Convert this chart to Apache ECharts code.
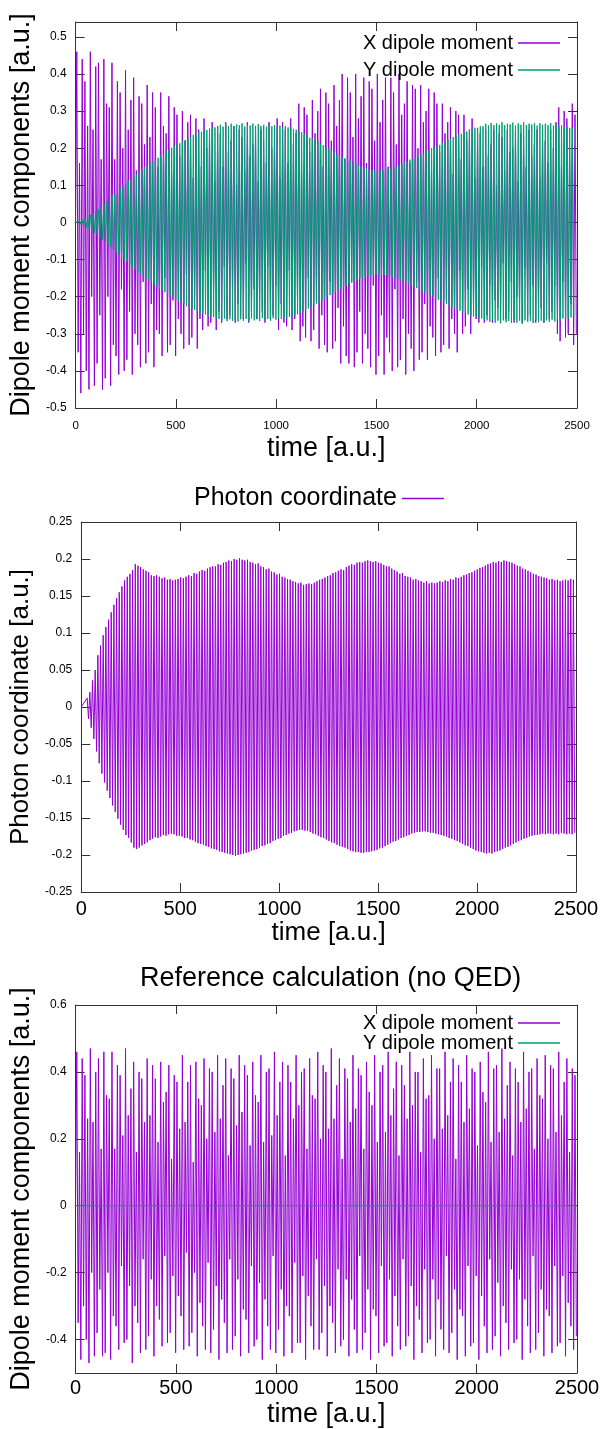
<!DOCTYPE html>
<html>
<head>
<meta charset="utf-8">
<script src="https://cdn.jsdelivr.net/npm/echarts@6.0.0/dist/echarts.min.js"></script>
<style>
  html, body { margin: 0; padding: 0; background: #fff; }
  #chart { width: 605px; height: 1429px; }
</style>
</head>
<body>
<div id="chart"></div>
<script>
// tick labels
const timeTicks = [0, 500, 1000, 1500, 2000, 2500];
const dipoleTicks = [-0.5, -0.4, -0.3, -0.2, -0.1, 0, 0.1, 0.2, 0.3, 0.4, 0.5];
const photonTicks = [-0.25, -0.2, -0.15, -0.1, -0.05, 0, 0.05, 0.1, 0.15, 0.2, 0.25];
const refTicks = [-0.4, -0.2, 0, 0.2, 0.4, 0.6];

// one value per oscillation: maxima and minima
const period = 13.5;
const dipoleStart = 6;
const yDipoleStart = 20;
const photonStart = 30;

// panel 1, X dipole moment
const xDipoleMax = [
  0.46, 0.16, 0.44, 0.38, 0.26, 0.46, 0.25, 0.42, 0.43, 0.17,
  0.44, 0.32, 0.31, 0.43, 0.17, 0.38, 0.35, 0.2, 0.41, 0.25,
  0.33, 0.39, 0.14, 0.34, 0.32, 0.21, 0.37, 0.23, 0.35, 0.31,
  0.15, 0.35, 0.26, 0.24, 0.34, 0.13, 0.31, 0.29, 0.18, 0.3,
  0.22, 0.27, 0.29, 0.12, 0.28, 0.25, 0.15, 0.28, 0.2, 0.24,
  0.27, 0.11, 0.26, 0.24, 0.15, 0.27, 0.19, 0.22, 0.26, 0.1,
  0.25, 0.23, 0.14, 0.27, 0.18, 0.21, 0.26, 0.11, 0.25, 0.22,
  0.16, 0.27, 0.2, 0.22, 0.28, 0.12, 0.27, 0.25, 0.16, 0.28,
  0.21, 0.24, 0.32, 0.14, 0.31, 0.29, 0.19, 0.33, 0.24, 0.3,
  0.36, 0.15, 0.35, 0.32, 0.22, 0.37, 0.26, 0.33, 0.4, 0.17,
  0.39, 0.35, 0.23, 0.4, 0.28, 0.34, 0.39, 0.16, 0.38, 0.36,
  0.22, 0.4, 0.27, 0.33, 0.39, 0.15, 0.39, 0.35, 0.21, 0.4,
  0.29, 0.32, 0.38, 0.16, 0.37, 0.36, 0.2, 0.37, 0.27, 0.3,
  0.36, 0.14, 0.35, 0.32, 0.19, 0.32, 0.24, 0.27, 0.31, 0.13,
  0.3, 0.29, 0.17, 0.29, 0.22, 0.25, 0.28, 0.12, 0.25, 0.24,
  0.15, 0.25, 0.18, 0.21, 0.25, 0.1, 0.24, 0.23, 0.14, 0.25,
  0.19, 0.2, 0.25, 0.11, 0.24, 0.23, 0.15, 0.25, 0.18, 0.21,
  0.25, 0.12, 0.24, 0.22, 0.16, 0.25, 0.2, 0.27, 0.31, 0.15,
  0.3, 0.28, 0.2, 0.32, 0.29
];
const xDipoleMin = [
  -0.35, -0.46, -0.3, -0.4, -0.45, -0.2, -0.44, -0.38, -0.25, -0.45,
  -0.42, -0.2, -0.44, -0.33, -0.36, -0.41, -0.18, -0.4, -0.37, -0.24,
  -0.41, -0.3, -0.33, -0.39, -0.16, -0.38, -0.35, -0.22, -0.39, -0.29,
  -0.3, -0.36, -0.15, -0.35, -0.33, -0.21, -0.36, -0.26, -0.3, -0.34,
  -0.14, -0.33, -0.31, -0.2, -0.34, -0.26, -0.29, -0.13, -0.28, -0.27,
  -0.18, -0.29, -0.24, -0.27, -0.12, -0.26, -0.25, -0.17, -0.27, -0.22,
  -0.25, -0.26, -0.11, -0.27, -0.24, -0.18, -0.26, -0.21, -0.24, -0.27,
  -0.12, -0.26, -0.25, -0.17, -0.29, -0.22, -0.27, -0.28, -0.13, -0.29,
  -0.26, -0.2, -0.32, -0.28, -0.31, -0.15, -0.32, -0.29, -0.21, -0.34,
  -0.25, -0.33, -0.35, -0.16, -0.34, -0.32, -0.23, -0.38, -0.28, -0.36,
  -0.38, -0.16, -0.39, -0.35, -0.24, -0.38, -0.3, -0.34, -0.39, -0.17,
  -0.41, -0.36, -0.25, -0.41, -0.31, -0.35, -0.4, -0.18, -0.39, -0.37,
  -0.26, -0.41, -0.3, -0.34, -0.4, -0.16, -0.37, -0.35, -0.22, -0.37,
  -0.28, -0.31, -0.36, -0.15, -0.35, -0.33, -0.21, -0.34, -0.26, -0.3,
  -0.35, -0.13, -0.3, -0.28, -0.18, -0.3, -0.22, -0.26, -0.27, -0.12,
  -0.27, -0.25, -0.17, -0.27, -0.21, -0.23, -0.26, -0.11, -0.26, -0.24,
  -0.16, -0.27, -0.2, -0.22, -0.27, -0.12, -0.26, -0.25, -0.17, -0.27,
  -0.22, -0.23, -0.27, -0.11, -0.26, -0.24, -0.17, -0.3, -0.32, -0.16,
  -0.31, -0.3, -0.22, -0.33, -0.3
];

// panel 1, Y dipole moment
const yDipoleMax = [
  0.004, 0.007, 0.011, 0.015, 0.021, 0.025, 0.031, 0.036, 0.044, 0.049,
  0.058, 0.063, 0.072, 0.077, 0.085, 0.09, 0.099, 0.104, 0.112, 0.117,
  0.126, 0.13, 0.138, 0.141, 0.149, 0.152, 0.16, 0.163, 0.171, 0.174,
  0.181, 0.184, 0.191, 0.195, 0.201, 0.205, 0.211, 0.213, 0.22, 0.222,
  0.229, 0.23, 0.236, 0.237, 0.243, 0.244, 0.248, 0.249, 0.253, 0.253,
  0.256, 0.259, 0.263, 0.258, 0.265, 0.26, 0.266, 0.259, 0.264, 0.262,
  0.267, 0.258, 0.264, 0.261, 0.266, 0.259, 0.265, 0.26, 0.263, 0.258,
  0.264, 0.259, 0.262, 0.257, 0.261, 0.256, 0.26, 0.256, 0.257, 0.252,
  0.25, 0.245, 0.243, 0.237, 0.235, 0.228, 0.226, 0.22, 0.218, 0.211,
  0.208, 0.201, 0.199, 0.192, 0.19, 0.183, 0.181, 0.175, 0.173, 0.167,
  0.165, 0.159, 0.157, 0.152, 0.151, 0.146, 0.146, 0.142, 0.142, 0.139,
  0.141, 0.139, 0.142, 0.141, 0.145, 0.145, 0.149, 0.149, 0.154, 0.156,
  0.162, 0.163, 0.169, 0.17, 0.176, 0.178, 0.184, 0.186, 0.192, 0.194,
  0.2, 0.201, 0.207, 0.209, 0.215, 0.217, 0.223, 0.225, 0.23, 0.232,
  0.238, 0.239, 0.244, 0.245, 0.25, 0.251, 0.255, 0.255, 0.259, 0.259,
  0.266, 0.261, 0.268, 0.262, 0.267, 0.263, 0.27, 0.262, 0.266, 0.264,
  0.269, 0.261, 0.267, 0.263, 0.27, 0.262, 0.266, 0.264, 0.268, 0.261,
  0.267, 0.263, 0.266, 0.262, 0.268, 0.261, 0.264, 0.26, 0.262, 0.258,
  0.257, 0.255, 0.254
];
const yDipoleMin = [
  -0.005, -0.009, -0.013, -0.018, -0.023, -0.028, -0.034, -0.04, -0.046, -0.053,
  -0.06, -0.067, -0.074, -0.081, -0.087, -0.094, -0.101, -0.107, -0.114, -0.121,
  -0.127, -0.134, -0.139, -0.145, -0.15, -0.156, -0.161, -0.167, -0.172, -0.178,
  -0.182, -0.188, -0.192, -0.198, -0.202, -0.208, -0.211, -0.217, -0.22, -0.226,
  -0.229, -0.233, -0.236, -0.24, -0.243, -0.246, -0.248, -0.251, -0.253, -0.255,
  -0.258, -0.26, -0.264, -0.259, -0.266, -0.261, -0.265, -0.26, -0.267, -0.261,
  -0.265, -0.26, -0.266, -0.259, -0.264, -0.261, -0.266, -0.258, -0.263, -0.26,
  -0.265, -0.258, -0.262, -0.257, -0.26, -0.256, -0.259, -0.254, -0.255, -0.25,
  -0.248, -0.244, -0.24, -0.236, -0.232, -0.227, -0.223, -0.219, -0.215, -0.21,
  -0.205, -0.2, -0.196, -0.191, -0.187, -0.182, -0.178, -0.174, -0.17, -0.166,
  -0.162, -0.158, -0.155, -0.151, -0.149, -0.146, -0.144, -0.142, -0.141, -0.14,
  -0.14, -0.141, -0.141, -0.143, -0.144, -0.147, -0.148, -0.151, -0.155, -0.159,
  -0.162, -0.166, -0.17, -0.173, -0.177, -0.181, -0.185, -0.189, -0.193, -0.197,
  -0.2, -0.204, -0.208, -0.212, -0.216, -0.22, -0.224, -0.227, -0.231, -0.235,
  -0.238, -0.242, -0.244, -0.248, -0.25, -0.253, -0.255, -0.257, -0.259, -0.261,
  -0.264, -0.268, -0.263, -0.27, -0.265, -0.272, -0.264, -0.269, -0.266, -0.271,
  -0.264, -0.27, -0.265, -0.273, -0.264, -0.268, -0.266, -0.271, -0.263, -0.269,
  -0.265, -0.27, -0.264, -0.268, -0.262, -0.267, -0.261, -0.264, -0.259, -0.261,
  -0.257, -0.256, -0.253
];

// panel 2, photon coordinate
const photonMax = [
  0.012, 0.02, 0.036, 0.05, 0.07, 0.083, 0.097, 0.108, 0.118, 0.128,
  0.138, 0.147, 0.155, 0.163, 0.171, 0.176, 0.18, 0.185, 0.193, 0.191,
  0.189, 0.186, 0.184, 0.182, 0.178, 0.177, 0.178, 0.176, 0.174, 0.175,
  0.172, 0.173, 0.171, 0.172, 0.173, 0.175, 0.174, 0.176, 0.178, 0.177,
  0.181, 0.18, 0.183, 0.185, 0.184, 0.187, 0.189, 0.19, 0.19, 0.193,
  0.192, 0.195, 0.196, 0.198, 0.197, 0.2, 0.199, 0.201, 0.199, 0.198,
  0.199, 0.196, 0.195, 0.193, 0.194, 0.19, 0.189, 0.186, 0.187, 0.183,
  0.182, 0.179, 0.18, 0.176, 0.175, 0.173, 0.172, 0.17, 0.169, 0.167,
  0.168, 0.165, 0.166, 0.167, 0.166, 0.168, 0.17, 0.172, 0.173, 0.175,
  0.177, 0.178, 0.181, 0.182, 0.184, 0.186, 0.185, 0.189, 0.191, 0.193,
  0.192, 0.195, 0.196, 0.195, 0.197, 0.198, 0.197, 0.196, 0.197, 0.195,
  0.194, 0.192, 0.19, 0.19, 0.187, 0.185, 0.183, 0.18, 0.181, 0.177,
  0.176, 0.175, 0.172, 0.173, 0.171, 0.17, 0.168, 0.17, 0.167, 0.168,
  0.167, 0.168, 0.17, 0.169, 0.171, 0.17, 0.173, 0.172, 0.175, 0.174,
  0.176, 0.178, 0.179, 0.181, 0.182, 0.184, 0.186, 0.188, 0.189, 0.191,
  0.193, 0.194, 0.196, 0.195, 0.197, 0.196, 0.198, 0.197, 0.196, 0.195,
  0.193, 0.191, 0.19, 0.187, 0.186, 0.184, 0.182, 0.18, 0.179, 0.177,
  0.176, 0.175, 0.174, 0.172, 0.173, 0.171, 0.172, 0.17, 0.171, 0.172,
  0.171, 0.173, 0.172
];
const photonMin = [
  -0.016, -0.028, -0.043, -0.06, -0.076, -0.09, -0.102, -0.113, -0.123, -0.133,
  -0.142, -0.151, -0.159, -0.166, -0.173, -0.177, -0.183, -0.19, -0.192, -0.19,
  -0.187, -0.185, -0.183, -0.18, -0.178, -0.176, -0.177, -0.175, -0.173, -0.174,
  -0.172, -0.171, -0.172, -0.174, -0.174, -0.175, -0.177, -0.177, -0.179, -0.18,
  -0.182, -0.184, -0.185, -0.186, -0.188, -0.189, -0.191, -0.192, -0.193, -0.195,
  -0.196, -0.197, -0.198, -0.199, -0.2, -0.201, -0.2, -0.199, -0.198, -0.197,
  -0.196, -0.194, -0.193, -0.192, -0.19, -0.188, -0.187, -0.185, -0.184, -0.181,
  -0.18, -0.178, -0.177, -0.174, -0.173, -0.171, -0.17, -0.168, -0.167, -0.166,
  -0.166, -0.167, -0.167, -0.169, -0.171, -0.172, -0.174, -0.176, -0.177, -0.179,
  -0.181, -0.183, -0.184, -0.186, -0.188, -0.189, -0.19, -0.192, -0.194, -0.195,
  -0.196, -0.196, -0.197, -0.197, -0.196, -0.196, -0.195, -0.194, -0.193, -0.191,
  -0.19, -0.188, -0.186, -0.184, -0.182, -0.181, -0.179, -0.177, -0.176, -0.174,
  -0.173, -0.171, -0.17, -0.169, -0.169, -0.168, -0.168, -0.169, -0.17, -0.17,
  -0.171, -0.172, -0.173, -0.174, -0.175, -0.177, -0.178, -0.18, -0.181, -0.183,
  -0.185, -0.187, -0.188, -0.19, -0.192, -0.194, -0.195, -0.196, -0.197, -0.198,
  -0.197, -0.198, -0.196, -0.195, -0.194, -0.192, -0.19, -0.189, -0.187, -0.185,
  -0.183, -0.181, -0.18, -0.178, -0.177, -0.175, -0.174, -0.173, -0.173, -0.172,
  -0.171, -0.172, -0.171, -0.171, -0.172, -0.171, -0.172, -0.17, -0.171, -0.172,
  -0.171, -0.172, -0.17
];

// panel 3, reference X dipole moment (Y stays at zero)
const refXMax = [
  0.46, 0.16, 0.44, 0.39, 0.26, 0.47, 0.25, 0.4, 0.44, 0.17,
  0.46, 0.33, 0.32, 0.46, 0.17, 0.42, 0.39, 0.21, 0.47, 0.27,
  0.35, 0.43, 0.16, 0.4, 0.38, 0.25, 0.44, 0.27, 0.42, 0.38,
  0.19, 0.43, 0.31, 0.34, 0.42, 0.14, 0.39, 0.37, 0.23, 0.45,
  0.25, 0.37, 0.42, 0.13, 0.43, 0.32, 0.3, 0.44, 0.2, 0.41,
  0.4, 0.22, 0.45, 0.26, 0.36, 0.44, 0.15, 0.41, 0.38, 0.24,
  0.45, 0.28, 0.42, 0.39, 0.18, 0.43, 0.33, 0.31, 0.45, 0.19,
  0.4, 0.41, 0.21, 0.46, 0.27, 0.37, 0.43, 0.15, 0.42, 0.37,
  0.26, 0.45, 0.3, 0.4, 0.41, 0.17, 0.44, 0.33, 0.32, 0.46,
  0.2, 0.42, 0.4, 0.23, 0.47, 0.26, 0.36, 0.44, 0.14, 0.41,
  0.38, 0.25, 0.45, 0.29, 0.41, 0.39, 0.17, 0.43, 0.34, 0.3,
  0.45, 0.19, 0.4, 0.42, 0.22, 0.46, 0.27, 0.35, 0.43, 0.15,
  0.42, 0.36, 0.26, 0.46, 0.3, 0.4, 0.4, 0.16, 0.44, 0.32,
  0.33, 0.45, 0.2, 0.41, 0.41, 0.23, 0.46, 0.27, 0.37, 0.44,
  0.14, 0.42, 0.37, 0.25, 0.45, 0.29, 0.41, 0.4, 0.18, 0.43,
  0.34, 0.31, 0.46, 0.19, 0.41, 0.42, 0.22, 0.47, 0.26, 0.36,
  0.43, 0.15, 0.41, 0.37, 0.25, 0.46, 0.29, 0.4, 0.41, 0.17,
  0.44, 0.33, 0.32, 0.45, 0.2, 0.42, 0.41, 0.22, 0.46, 0.27,
  0.37, 0.44, 0.16, 0.41, 0.39
];
const refXMin = [
  -0.35, -0.46, -0.3, -0.4, -0.47, -0.2, -0.45, -0.38, -0.25, -0.45,
  -0.44, -0.2, -0.46, -0.33, -0.36, -0.43, -0.18, -0.41, -0.4, -0.24,
  -0.47, -0.3, -0.35, -0.44, -0.16, -0.43, -0.39, -0.22, -0.45, -0.3,
  -0.34, -0.42, -0.15, -0.41, -0.38, -0.21, -0.44, -0.27, -0.33, -0.43,
  -0.14, -0.42, -0.38, -0.2, -0.45, -0.29, -0.36, -0.43, -0.17, -0.44,
  -0.37, -0.24, -0.46, -0.28, -0.35, -0.44, -0.16, -0.43, -0.39, -0.22,
  -0.45, -0.31, -0.34, -0.44, -0.18, -0.42, -0.4, -0.23, -0.46, -0.28,
  -0.36, -0.43, -0.15, -0.44, -0.37, -0.25, -0.45, -0.3, -0.33, -0.44,
  -0.17, -0.41, -0.41, -0.21, -0.46, -0.27, -0.36, -0.43, -0.16, -0.43,
  -0.38, -0.24, -0.45, -0.3, -0.35, -0.44, -0.19, -0.42, -0.4, -0.22,
  -0.45, -0.28, -0.37, -0.44, -0.15, -0.43, -0.38, -0.25, -0.46, -0.31,
  -0.33, -0.44, -0.18, -0.42, -0.41, -0.22, -0.45, -0.27, -0.36, -0.43,
  -0.16, -0.42, -0.39, -0.24, -0.46, -0.3, -0.34, -0.44, -0.19, -0.41,
  -0.4, -0.22, -0.45, -0.28, -0.37, -0.43, -0.15, -0.44, -0.38, -0.25,
  -0.46, -0.31, -0.33, -0.45, -0.18, -0.42, -0.41, -0.21, -0.46, -0.27,
  -0.36, -0.44, -0.16, -0.43, -0.39, -0.23, -0.45, -0.3, -0.35, -0.43,
  -0.19, -0.41, -0.4, -0.22, -0.46, -0.28, -0.36, -0.44, -0.15, -0.43,
  -0.38, -0.25, -0.45, -0.31, -0.33, -0.44, -0.18, -0.42, -0.41, -0.21,
  -0.45, -0.29, -0.36, -0.43, -0.39
];
const refY = [[0, 0], [2500, 0]];

const PURPLE = '#9400d3';
const GREEN = '#009e73';
const INK = '#000';
const FRAME = '#333';
const FONT = '"Liberation Sans", Arial, Helvetica, sans-serif';

// alternate max and min of each cycle along the time axis
function buildWave(start, maxima, minima) {
  const pts = [[0, 0]];
  for (let i = 0; i < maxima.length; i++) {
    pts.push([start + i * period, maxima[i]]);
    if (i < minima.length) pts.push([start + (i + 0.5) * period, minima[i]]);
  }
  return pts;
}

// plain numbers, no thousands separator
const plain = v => String(v);

function timeAxis(grid, labelSize, labelMargin, nameGap, nameSize) {
  return {
    type: 'value', gridIndex: grid, min: 0, max: 2500, position: 'bottom',
    name: 'time [a.u.]', nameLocation: 'middle', nameGap: nameGap,
    nameTextStyle: { fontSize: nameSize, color: INK, fontFamily: FONT },
    axisLine: { show: true, onZero: false, lineStyle: { color: FRAME, width: 1 } },
    axisTick: { show: true, inside: true, length: 9, customValues: timeTicks, lineStyle: { color: FRAME } },
    axisLabel: { customValues: timeTicks, formatter: plain, fontSize: labelSize, margin: labelMargin, color: INK, fontFamily: FONT },
    splitLine: { show: false }
  };
}
function topAxis(grid) {
  return {
    type: 'value', gridIndex: grid, min: 0, max: 2500, position: 'top',
    axisLine: { show: true, onZero: false, lineStyle: { color: FRAME, width: 1 } },
    axisTick: { show: true, inside: true, length: 9, customValues: timeTicks, lineStyle: { color: FRAME } },
    axisLabel: { show: false },
    splitLine: { show: false }
  };
}
function valueAxis(grid, min, max, ticks, name, nameGap, nameSize) {
  return {
    type: 'value', gridIndex: grid, min: min, max: max, position: 'left',
    name: name, nameLocation: 'middle', nameGap: nameGap,
    nameTextStyle: { fontSize: nameSize, color: INK, fontFamily: FONT },
    axisLine: { show: true, onZero: false, lineStyle: { color: FRAME, width: 1 } },
    axisTick: { show: true, inside: true, length: 9, customValues: ticks, lineStyle: { color: FRAME } },
    axisLabel: { customValues: ticks, formatter: plain, fontSize: 12, margin: 9, color: INK, fontFamily: FONT },
    splitLine: { show: false }
  };
}
function rightAxis(grid, min, max, ticks) {
  return {
    type: 'value', gridIndex: grid, min: min, max: max, position: 'right',
    axisLine: { show: true, onZero: false, lineStyle: { color: FRAME, width: 1 } },
    axisTick: { show: true, inside: true, length: 9, customValues: ticks, lineStyle: { color: FRAME } },
    axisLabel: { show: false },
    splitLine: { show: false }
  };
}
function wave(name, xi, yi, color, data) {
  return {
    name: name, type: 'line', xAxisIndex: xi, yAxisIndex: yi, data: data,
    showSymbol: false, symbol: 'none', silent: true,
    lineStyle: { color: color, width: 1 }, itemStyle: { color: color }
  };
}

const legendText = { color: INK, fontFamily: FONT };

const chart = echarts.init(document.getElementById('chart'));
chart.setOption({
  animation: false,
  backgroundColor: '#fff',
  title: [{
    text: 'Reference calculation (no QED)', left: 140, top: 965, padding: 0,
    textStyle: { fontSize: 27, fontWeight: 'normal', color: INK, fontFamily: FONT }
  }],
  legend: [
    {
      data: ['X dipole moment', 'Y dipole moment'], orient: 'vertical', right: 45, top: 33,
      align: 'right', icon: 'rect', itemWidth: 42, itemHeight: 1.5, itemGap: 7, padding: 0,
      selectedMode: false, textStyle: Object.assign({ fontSize: 20 }, legendText)
    },
    {
      data: ['Photon coordinate'], left: 194, top: 486,
      align: 'right', icon: 'rect', itemWidth: 42, itemHeight: 1.5, padding: 0,
      selectedMode: false, textStyle: Object.assign({ fontSize: 25 }, legendText)
    },
    {
      data: ['X dipole moment', 'Y dipole moment'], orient: 'vertical', right: 45, top: 1013,
      align: 'right', icon: 'rect', itemWidth: 42, itemHeight: 1.5, itemGap: 0, padding: 0,
      selectedMode: false, textStyle: Object.assign({ fontSize: 20, lineHeight: 18 }, legendText)
    }
  ],
  grid: [
    { left: 72, top: 22, width: 505, height: 386 },
    { left: 80, top: 522, width: 496, height: 370 },
    { left: 72, top: 1005, width: 505, height: 372 }
  ],
  xAxis: [
    timeAxis(0, 11.5, 12, 27, 27), topAxis(0),
    timeAxis(1, 20, 7, 28, 26), topAxis(1),
    timeAxis(2, 20, 5, 28, 27), topAxis(2)
  ],
  yAxis: [
    valueAxis(0, -0.5, 0.54, dipoleTicks, 'Dipole moment components [a.u.]', 33, 27), rightAxis(0, -0.5, 0.54, dipoleTicks),
    valueAxis(1, -0.25, 0.25, photonTicks, 'Photon coordinate [a.u.]', 38, 26), rightAxis(1, -0.25, 0.25, photonTicks),
    valueAxis(2, -0.5, 0.6, refTicks, 'Dipole moment components [a.u.]', 31, 27), rightAxis(2, -0.5, 0.6, refTicks)
  ],
  series: [
    wave('X dipole moment', 0, 0, PURPLE, buildWave(dipoleStart, xDipoleMax, xDipoleMin)),
    wave('Y dipole moment', 0, 0, GREEN, buildWave(yDipoleStart, yDipoleMax, yDipoleMin)),
    wave('Photon coordinate', 2, 2, PURPLE, buildWave(photonStart, photonMax, photonMin)),
    wave('X dipole moment', 4, 4, PURPLE, buildWave(dipoleStart, refXMax, refXMin)),
    wave('Y dipole moment', 4, 4, GREEN, refY)
  ]
});
</script>
</body>
</html>
